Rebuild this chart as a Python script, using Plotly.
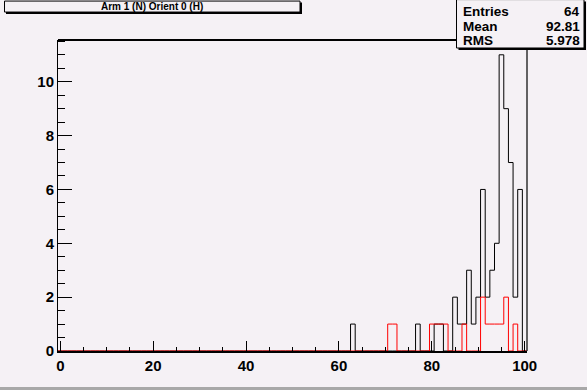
import numpy as np
import plotly.graph_objects as go

# ---- data (bin centre -> count), bins of width 1 from -0.5 to 100.5 ----
black_bins = [63, 77, 81, 82, 85, 86, 87, 88, 89, 90, 91, 92, 93, 94, 95, 96, 97, 98, 99]
black_counts = [1, 1, 1, 1, 2, 1, 1, 3, 1, 2, 6, 2, 3, 4, 11, 9, 7, 2, 6]
red_bins = [71, 72, 80, 81, 82, 83, 87, 91, 92, 93, 94, 95, 96, 98]
red_counts = [1, 1, 1, 1, 1, 1, 1, 2, 1, 1, 1, 1, 2, 1]
x_ticks = [0, 20, 40, 60, 80, 100]
y_ticks = [0, 2, 4, 6, 8, 10]
title_text = "Arm 1 (N) Orient 0 (H)"
stats_names = ["Entries", "Mean", "RMS"]
stats_values = ["64", "92.81", "5.978"]

XMIN, XMAX, NB = -0.5, 100.5, 101
edges = np.linspace(XMIN, XMAX, NB + 1)


def outline(bins, counts):
    full = np.zeros(NB)
    for b, c in zip(bins, counts):
        full[int(round(b - XMIN - 0.5))] = c
    xs = np.concatenate([[edges[0]], edges[:-1], [edges[-1]]])
    ys = np.concatenate([[0], full, [0]])
    return xs, ys


W, H = 587, 390
L, R, T, B = 58, 527, 39.5, 351
BG = "#f5f1f5"
FONT = "Liberation Sans"


def px(x):
    return (x - L) / (R - L)


def py(y):
    return (B - y) / (B - T)


fig = go.Figure()
bx, by = outline(black_bins, black_counts)
rx, ry = outline(red_bins, red_counts)
fig.add_trace(go.Scatter(x=bx, y=by, mode="lines", line=dict(color="black", width=1, shape="hv"),
                         hoverinfo="skip", showlegend=False))
fig.add_trace(go.Scatter(x=rx, y=ry, mode="lines", line=dict(color="#ff0000", width=1, shape="hv"),
                         hoverinfo="skip", showlegend=False))

shapes = []
# frame: top and right lines
shapes.append(dict(type="line", xref="paper", yref="paper", x0=0, x1=1, y0=1, y1=1,
                   line=dict(color="black", width=2)))
shapes.append(dict(type="line", xref="paper", yref="paper", x0=1, x1=1, y0=0, y1=1,
                   line=dict(color="#303030", width=1.5)))
# title box with shadow
shapes.append(dict(type="rect", xref="paper", yref="paper", x0=px(6), x1=px(302), y0=py(13.5), y1=py(2),
                   line=dict(width=0), fillcolor="black"))
shapes.append(dict(type="rect", xref="paper", yref="paper", x0=px(4.5), x1=px(300), y0=py(11.5), y1=py(0.5),
                   line=dict(color="black", width=1), fillcolor=BG))
# stats box with shadow
shapes.append(dict(type="rect", xref="paper", yref="paper", x0=px(458.5), x1=px(586), y0=py(49.5), y1=py(1),
                   line=dict(width=0), fillcolor="black"))
shapes.append(dict(type="rect", xref="paper", yref="paper", x0=px(456.5), x1=px(584), y0=py(47.5), y1=py(-1),
                   line=dict(color="black", width=1), fillcolor=BG))
# canvas bottom border
shapes.append(dict(type="rect", xref="paper", yref="paper", x0=px(0), x1=px(587), y0=py(390), y1=py(387),
                   line=dict(width=0), fillcolor="#a8a8a8"))

annotations = [dict(xref="paper", yref="paper", x=px(152), y=py(6), text=title_text, showarrow=False,
                    xanchor="center", yanchor="middle",
                    font=dict(family=FONT, size=10, color="black", weight="bold"))]
row_y = [11, 25.5, 40]
for name, val, yy in zip(stats_names, stats_values, row_y):
    annotations.append(dict(xref="paper", yref="paper", x=px(461), y=py(yy), text=name, showarrow=False,
                            xanchor="left", yanchor="middle",
                            font=dict(family=FONT, size=13.5, color="black", weight="bold")))
    annotations.append(dict(xref="paper", yref="paper", x=px(582), y=py(yy), text=val, showarrow=False,
                            xanchor="right", yanchor="middle",
                            font=dict(family=FONT, size=13.5, color="black", weight="bold")))

fig.update_layout(
    template="none",
    width=W, height=H,
    margin=dict(l=L, r=W - R, t=T, b=H - B, pad=0),
    paper_bgcolor=BG, plot_bgcolor=BG,
    shapes=shapes, annotations=annotations,
    xaxis=dict(range=[XMIN, XMAX], tickvals=x_ticks, ticktext=[str(v) for v in x_ticks],
               ticks="inside", ticklen=10, tickwidth=1, tickcolor="black", automargin=False,
               minor=dict(dtick=5, tick0=0, ticks="inside", ticklen=4, tickcolor="black", showgrid=False),
               showgrid=False, zeroline=False, showline=True, linecolor="black", linewidth=2,
               tickfont=dict(family=FONT, size=15, color="black", weight="bold")),
    yaxis=dict(range=[0, 11.55], tickvals=y_ticks, ticktext=[str(v) for v in y_ticks],
               ticks="inside", ticklen=14, tickwidth=1, tickcolor="black", automargin=False,
               minor=dict(dtick=0.5, tick0=0, ticks="inside", ticklen=7, tickcolor="black", showgrid=False),
               showgrid=False, zeroline=False, showline=True, linecolor="black", linewidth=1,
               tickfont=dict(family=FONT, size=15, color="black", weight="bold")),
)

fig.write_html("out.html", config={"displayModeBar": False},
               post_script="document.body.style.margin='0';document.body.style.background='" + BG + "';")
